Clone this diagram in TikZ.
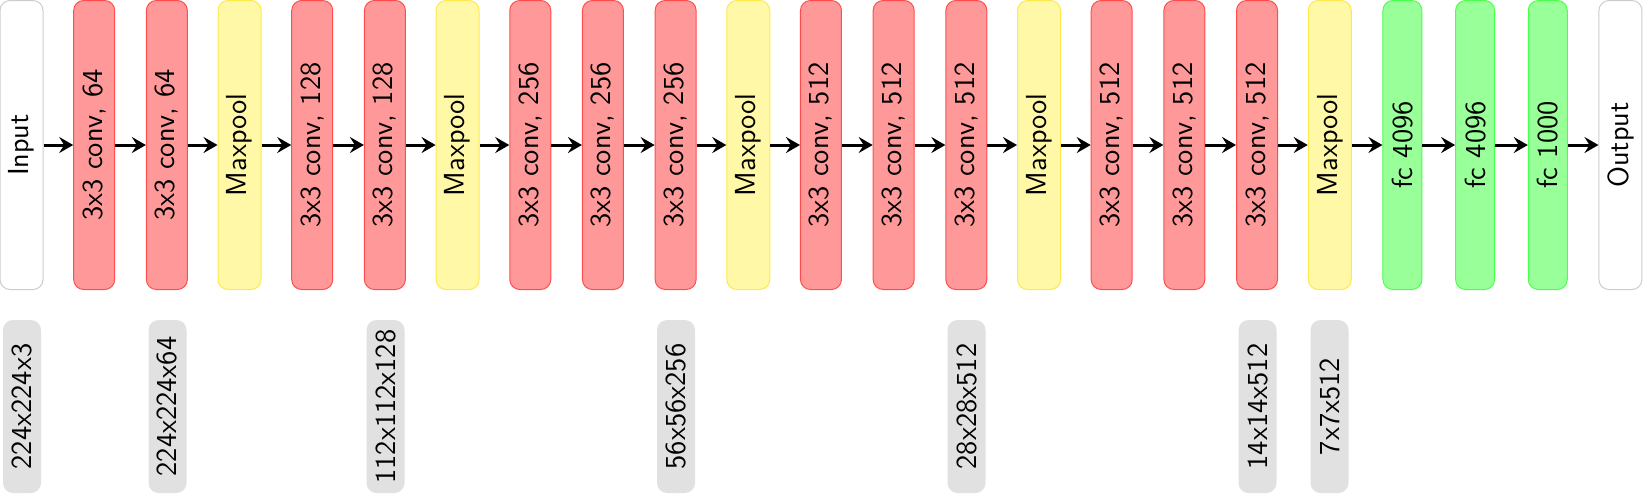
\documentclass[tikz,border=0pt]{standalone}
\usetikzlibrary{arrows.meta}
\definecolor{redfill}{HTML}{FF9999}
\definecolor{redline}{HTML}{FF4D4D}
\definecolor{yelfill}{HTML}{FFF8A6}
\definecolor{yelline}{HTML}{FFE84D}
\definecolor{grnfill}{HTML}{99FF99}
\definecolor{grnline}{HTML}{4DFF4D}
\definecolor{whtline}{HTML}{CCCCCC}
\definecolor{grayfill}{HTML}{E1E1E1}
\tikzset{
  layer/.style={rounded corners=5pt, line width=0.5pt, rotate=90, inner sep=0pt,
    minimum width=144.5pt, font=\sffamily\fontsize{14.5}{16}\selectfont, text=black},
  conv/.style={layer, draw=redline, fill=redfill, minimum height=20.5pt},
  pool/.style={layer, draw=yelline, fill=yelfill, minimum height=21.5pt},
  fcl/.style={layer, draw=grnline, fill=grnfill, minimum height=19.5pt},
  io/.style={layer, draw=whtline, fill=white, minimum height=21.5pt},
  dimbox/.style={rounded corners=5pt, rotate=90, inner sep=0pt, fill=grayfill,
    minimum width=86.5pt, minimum height=19pt, font=\sffamily\fontsize{14.5}{16}\selectfont, text=black},
  arr/.style={line width=1.5pt, -{Stealth[length=7pt,width=8pt,inset=2.5pt]}}
}
\begin{document}
\begin{tikzpicture}[x=0.5pt,y=-0.5pt]
\useasboundingbox (0,0) rectangle (1643,495);
\node[io]   (n0)  at (21.5,145)   {Input};
\node[conv] (n1)  at (94.18,145)  {3x3 conv, 64};
\node[conv] (n2)  at (166.86,145) {3x3 conv, 64};
\node[pool] (n3)  at (239.54,145) {Maxpool};
\node[conv] (n4)  at (312.22,145) {3x3 conv, 128};
\node[conv] (n5)  at (384.9,145)  {3x3 conv, 128};
\node[pool] (n6)  at (457.58,145) {Maxpool};
\node[conv] (n7)  at (530.26,145) {3x3 conv, 256};
\node[conv] (n8)  at (602.94,145) {3x3 conv, 256};
\node[conv] (n9)  at (675.62,145) {3x3 conv, 256};
\node[pool] (n10) at (748.3,145)  {Maxpool};
\node[conv] (n11) at (820.98,145) {3x3 conv, 512};
\node[conv] (n12) at (893.66,145) {3x3 conv, 512};
\node[conv] (n13) at (966.34,145) {3x3 conv, 512};
\node[pool] (n14) at (1039.02,145) {Maxpool};
\node[conv] (n15) at (1111.7,145) {3x3 conv, 512};
\node[conv] (n16) at (1184.38,145) {3x3 conv, 512};
\node[conv] (n17) at (1257.06,145) {3x3 conv, 512};
\node[pool] (n18) at (1329.74,145) {Maxpool};
\node[fcl]  (n19) at (1402.42,145) {fc 4096};
\node[fcl]  (n20) at (1475.1,145)  {fc 4096};
\node[fcl]  (n21) at (1547.78,145) {fc 1000};
\node[io]   (n22) at (1620.46,145) {Output};
\foreach \a/\b in {n0/n1,n1/n2,n2/n3,n3/n4,n4/n5,n5/n6,n6/n7,n7/n8,n8/n9,n9/n10,n10/n11,n11/n12,n12/n13,n13/n14,n14/n15,n15/n16,n16/n17,n17/n18,n18/n19,n19/n20,n20/n21,n21/n22}
  \draw[arr] (\a) -- (\b);
\node[dimbox] (d0)  at (22,406.5)   {224x224x3};
\node[dimbox] (d2)  at (167.5,406.5) {224x224x64};
\node[dimbox] (d5)  at (385.5,406.5) {112x112x128};
\node[dimbox] (d9)  at (676,406.5)   {56x56x256};
\node[dimbox] (d13) at (966.5,406.5) {28x28x512};
\node[dimbox] (d17) at (1257.5,406.5) {14x14x512};
\node[dimbox] (d18) at (1329.5,406.5) {7x7x512};
\end{tikzpicture}
\end{document}
